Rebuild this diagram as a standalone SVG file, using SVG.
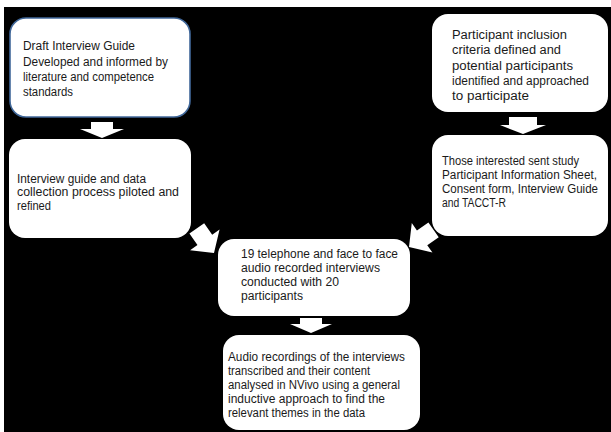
<svg xmlns="http://www.w3.org/2000/svg" width="611" height="432" viewBox="0 0 611 432">
<style>
.box{fill:#ffffff;}
.b1{stroke:#41689a;stroke-width:1.6;}
.arr{fill:#ffffff;}
text{font-family:"Liberation Sans",Arial,sans-serif;font-size:12.5px;fill:#1a1a1a;}
</style>
<rect x="0" y="0" width="611" height="432" fill="#ffffff"/>
<rect x="4" y="7" width="607" height="425" fill="#000000"/>
<g id="connectors">
<path class="arr" d="M91,122 H113 V129 H124 L102,138 L80,129 H91 Z"/>
<path class="arr" d="M509,117 H537 V125 H546 L523,134 L500,125 H509 Z"/>
<path class="arr" d="M300,318 H322 V324 H332 L311,333 L290,324 H300 Z"/>
<path class="arr" transform="translate(214,253) rotate(55)" d="M-30,-9 H-16 V-18 L0,0 L-16,18 V9 H-30 Z"/>
<path class="arr" transform="translate(409,247) rotate(145)" d="M-30,-9 H-16 V-18 L0,0 L-16,18 V9 H-30 Z"/>
</g>
<g id="node1">
<rect class="box b1" x="10" y="18" width="180" height="99" rx="16"/>
<text x="23" y="50" textLength="112" lengthAdjust="spacingAndGlyphs">Draft Interview Guide</text>
<text x="23" y="66" textLength="145" lengthAdjust="spacingAndGlyphs">Developed and informed by</text>
<text x="23" y="81" textLength="131" lengthAdjust="spacingAndGlyphs">literature and competence</text>
<text x="23" y="96" textLength="50" lengthAdjust="spacingAndGlyphs">standards</text>
</g>
<g id="node2">
<rect class="box" x="9" y="139" width="182" height="99" rx="16"/>
<text x="17" y="183" textLength="129" lengthAdjust="spacingAndGlyphs">Interview guide and data</text>
<text x="17" y="196" textLength="162" lengthAdjust="spacingAndGlyphs">collection process piloted and</text>
<text x="17" y="210" textLength="34" lengthAdjust="spacingAndGlyphs">refined</text>
</g>
<g id="node3">
<rect class="box" x="432" y="14" width="176" height="98" rx="16"/>
<text x="452" y="39" textLength="115" lengthAdjust="spacingAndGlyphs">Participant inclusion</text>
<text x="452" y="54" textLength="109" lengthAdjust="spacingAndGlyphs">criteria defined and</text>
<text x="452" y="70" textLength="121" lengthAdjust="spacingAndGlyphs">potential participants</text>
<text x="452" y="85" textLength="137" lengthAdjust="spacingAndGlyphs">identified and approached</text>
<text x="452" y="100" textLength="77" lengthAdjust="spacingAndGlyphs">to participate</text>
</g>
<g id="node4">
<rect class="box" x="432" y="135" width="176" height="101" rx="16"/>
<text x="442" y="165" textLength="137" lengthAdjust="spacingAndGlyphs">Those interested sent study</text>
<text x="442" y="179" textLength="155" lengthAdjust="spacingAndGlyphs">Participant Information Sheet,</text>
<text x="442" y="193" textLength="156" lengthAdjust="spacingAndGlyphs">Consent form, Interview Guide</text>
<text x="442" y="207" textLength="64" lengthAdjust="spacingAndGlyphs">and TACCT-R</text>
</g>
<g id="node5">
<rect class="box" x="218" y="239" width="192" height="77" rx="16"/>
<text x="241" y="258" textLength="157" lengthAdjust="spacingAndGlyphs">19 telephone and face to face</text>
<text x="241" y="272" textLength="139" lengthAdjust="spacingAndGlyphs">audio recorded interviews</text>
<text x="241" y="286" textLength="98" lengthAdjust="spacingAndGlyphs">conducted with 20</text>
<text x="241" y="300" textLength="62" lengthAdjust="spacingAndGlyphs">participants</text>
</g>
<g id="node6">
<rect class="box" x="223" y="335" width="197" height="95" rx="16"/>
<text x="228" y="361" textLength="177" lengthAdjust="spacingAndGlyphs">Audio recordings of the interviews</text>
<text x="228" y="375" textLength="142" lengthAdjust="spacingAndGlyphs">transcribed and their content</text>
<text x="228" y="389" textLength="172" lengthAdjust="spacingAndGlyphs">analysed in NVivo using a general</text>
<text x="228" y="403" textLength="157" lengthAdjust="spacingAndGlyphs">inductive approach to find the</text>
<text x="228" y="417" textLength="137" lengthAdjust="spacingAndGlyphs">relevant themes in the data</text>
</g>
</svg>
